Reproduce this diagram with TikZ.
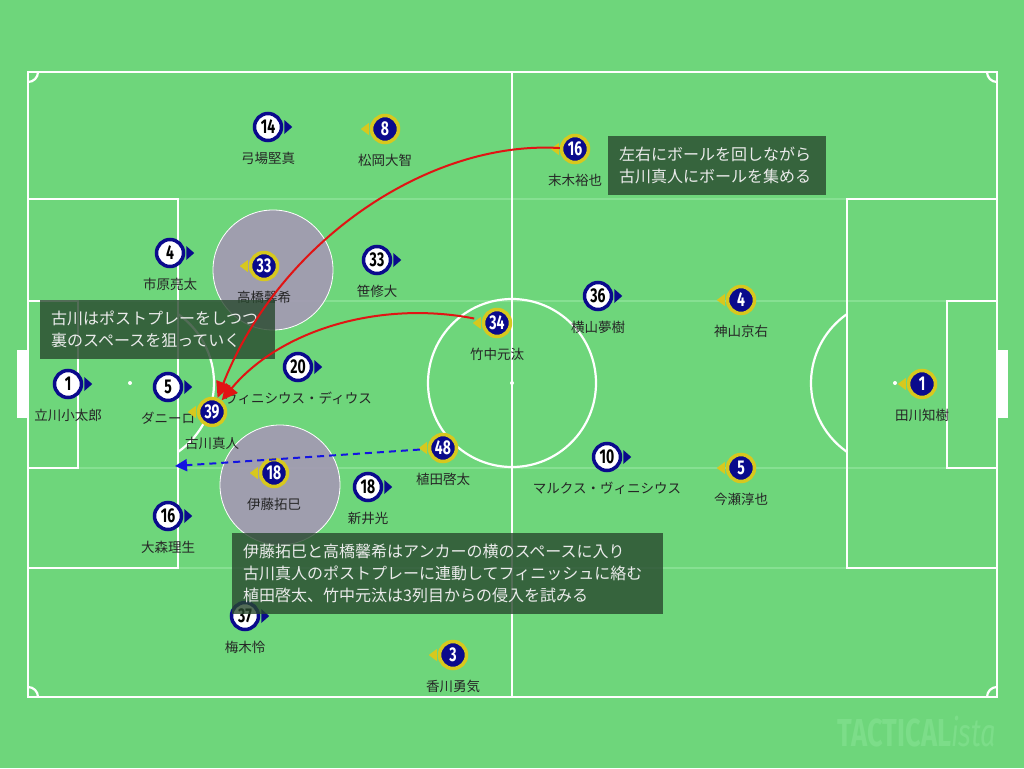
\documentclass[tikz,border=0pt]{standalone}
\usepackage{fontspec}
\usetikzlibrary{arrows.meta}
\newfontfamily\jpfont{Noto Sans CJK JP}
\newfontfamily\numfont[FakeStretch=0.7]{Fira Sans}
\definecolor{pitch}{RGB}{110,214,123}
\definecolor{lane}{RGB}{134,224,146}
\definecolor{navy}{RGB}{10,10,140}
\definecolor{gold}{RGB}{215,200,30}
\definecolor{zonegrey}{RGB}{165,152,180}
\definecolor{note}{RGB}{40,72,46}
\definecolor{passred}{RGB}{225,20,20}
\definecolor{runblue}{RGB}{20,20,225}
\definecolor{brand}{RGB}{124,221,137}

\begin{document}
\begin{tikzpicture}[x=1pt, y=-1pt,
        fieldline/.style={draw=white, line width=2.2pt},
        laneline/.style={draw=lane, line width=1.4pt},
        zone/.style={fill=zonegrey, fill opacity=0.9, draw=white, line width=0.8pt},
        home/.style={circle, draw=navy, fill=white, line width=3.5pt, minimum size=27pt,
            inner sep=0pt, text=black, font=\numfont\bfseries\fontsize{20}{20}\selectfont},
        away/.style={home, draw=gold, fill=navy, text=white},
        pname/.style={font=\jpfont\fontsize{13.5}{14}\selectfont, text=black!85,
            label distance=6pt, line width=0.4pt},
        notebox/.style={fill=note, fill opacity=0.8, text opacity=1, text=white!92!black,
            font=\jpfont\fontsize{16}{22}\selectfont, align=left, anchor=north west,
            inner xsep=11pt, inner ysep=11pt},
        pass/.style={draw=passred, line width=2pt, -{Triangle[length=16pt,width=15pt]}},
        run/.style={draw=runblue, line width=2pt, dash pattern=on 7pt off 5pt,
            -{Triangle[length=12pt,width=12pt]}}]
        \useasboundingbox (0,0) rectangle (1024,768);
        \fill[pitch] (0,0) rectangle (1024,768);
        \foreach \y in {199,301,468,568}
            \draw[laneline] (28,\y) -- (997,\y);
        \fill[white] (17,350) rectangle (28,418);
        \fill[white] (997,350) rectangle (1008,418);
        \draw[fieldline] (28,72) rectangle (997,697);
        \draw[fieldline] (512,72) -- (512,697);
        \draw[fieldline] (512,383) circle (84);
        \draw[fieldline] (28,199) rectangle (178,568);
        \draw[fieldline] (28,301) rectangle (78,468);
        \draw[fieldline] (997,199) rectangle (847,568);
        \draw[fieldline] (997,301) rectangle (947,468);
        \draw[fieldline] (130,383) ++(-55:84) arc[start angle=-55, end angle=55, radius=84];
        \draw[fieldline] (895,383) ++(125:84) arc[start angle=125, end angle=235, radius=84];
        \draw[fieldline] (28,72) ++(0:10) arc[start angle=0, end angle=90, radius=10];
        \draw[fieldline] (997,72) ++(90:10) arc[start angle=90, end angle=180, radius=10];
        \draw[fieldline] (997,697) ++(180:10) arc[start angle=180, end angle=270, radius=10];
        \draw[fieldline] (28,697) ++(270:10) arc[start angle=270, end angle=360, radius=10];
        \fill[white] (130,383) circle (2) (512,383) circle (2) (895,383) circle (2);

        \draw[zone] (273,270) circle (60);
        \draw[zone] (280,485) circle (60);

        \node[home, label={[pname]below:弓場堅真}] (h14) at (268,127) {14};
        \node[home, label={[pname]below:市原亮太}] (h4) at (170,253) {4};
        \node[home, label={[pname]below:笹修大}] (h33) at (377,260) {33};
        \node[home, label={[pname]below:立川小太郎}] (h1) at (68,384) {1};
        \node[home, label={[pname]below:ダニーロ}] (h5) at (168,387) {5};
        \node[home, label={[pname]below:ヴィニシウス・ディウス}] (h20) at (298,367) {20};
        \node[home, label={[pname]below:新井光}] (h18) at (368,487) {18};
        \node[home, label={[pname]below:大森理生}] (h16) at (168,516) {16};
        \node[home, label={[pname]below:梅木怜}] (h37) at (245,616) {37};
        \node[home, label={[pname]below:横山夢樹}] (h36) at (598,296) {36};
        \node[home, label={[pname]below:マルクス・ヴィニシウス}] (h10) at (607,457) {10};

        \node[away, label={[pname]below:松岡大智}] (a8) at (385,129) {8};
        \node[away, label={[pname]below:末木裕也}] (a16) at (575,149) {16};
        \node[away, label={[pname]below:高橋馨希}] (a33) at (264,266) {33};
        \node[away, label={[pname]below:竹中元汰}] (a34) at (497,323) {34};
        \node[away, label={[pname]below:神山京右}] (a4) at (741,300) {4};
        \node[away, label={[pname]below:古川真人}] (a39) at (212,412) {39};
        \node[away, label={[pname]below:植田啓太}] (a48) at (443,448) {48};
        \node[away, label={[pname]below:伊藤拓巳}] (a18) at (274,473) {18};
        \node[away, label={[pname]below:今瀬淳也}] (a5) at (741,468) {5};
        \node[away, label={[pname]below:田川知樹}] (a1) at (922,384) {1};
        \node[away, label={[pname]below:香川勇気}] (a3) at (453,655) {3};

        \foreach \p in {h14,h4,h33,h1,h5,h20,h18,h16,h37,h36,h10}
            \fill[navy] (\p.east) ++(1,-7) -- ++(0,14) -- ++(8,-7) -- cycle;
        \foreach \p in {a8,a16,a33,a34,a4,a39,a48,a18,a5,a1,a3}
            \fill[gold] (\p.west) ++(-1,-6) -- ++(0,12) -- ++(-8,-6) -- cycle;

        \node[notebox, text width=213pt] (note1) at (40,300)
            {古川はポストプレーをしつつ\\裏のスペースを狙っていく};
        \node[notebox, text width=196pt] (note2) at (608,136)
            {左右にボールを回しながら\\古川真人にボールを集める};
        \node[notebox, text width=409pt] (note3) at (232,533)
            {伊藤拓巳と高橋馨希はアンカーの横のスペースに入り\\古川真人のポストプレーに連動してフィニッシュに絡む\\植田啓太、竹中元汰は3列目からの侵入を試みる};

        \coordinate (runend) at (175,466);
        \draw[pass] (a16) .. controls (430,140) and (280,240) .. (a39);
        \draw[pass, shorten <=8pt] (a34) .. controls (380,300) and (280,330) .. (a39);
        \draw[run, shorten <=8pt] (a48) -- (runend);

        \node[text=brand, font=\numfont\fontsize{39}{39}\selectfont, inner sep=0pt] (mark) at (917,732)
            {\bfseries TACTICAL\mdseries\itshape ista};
\end{tikzpicture}
\end{document}
